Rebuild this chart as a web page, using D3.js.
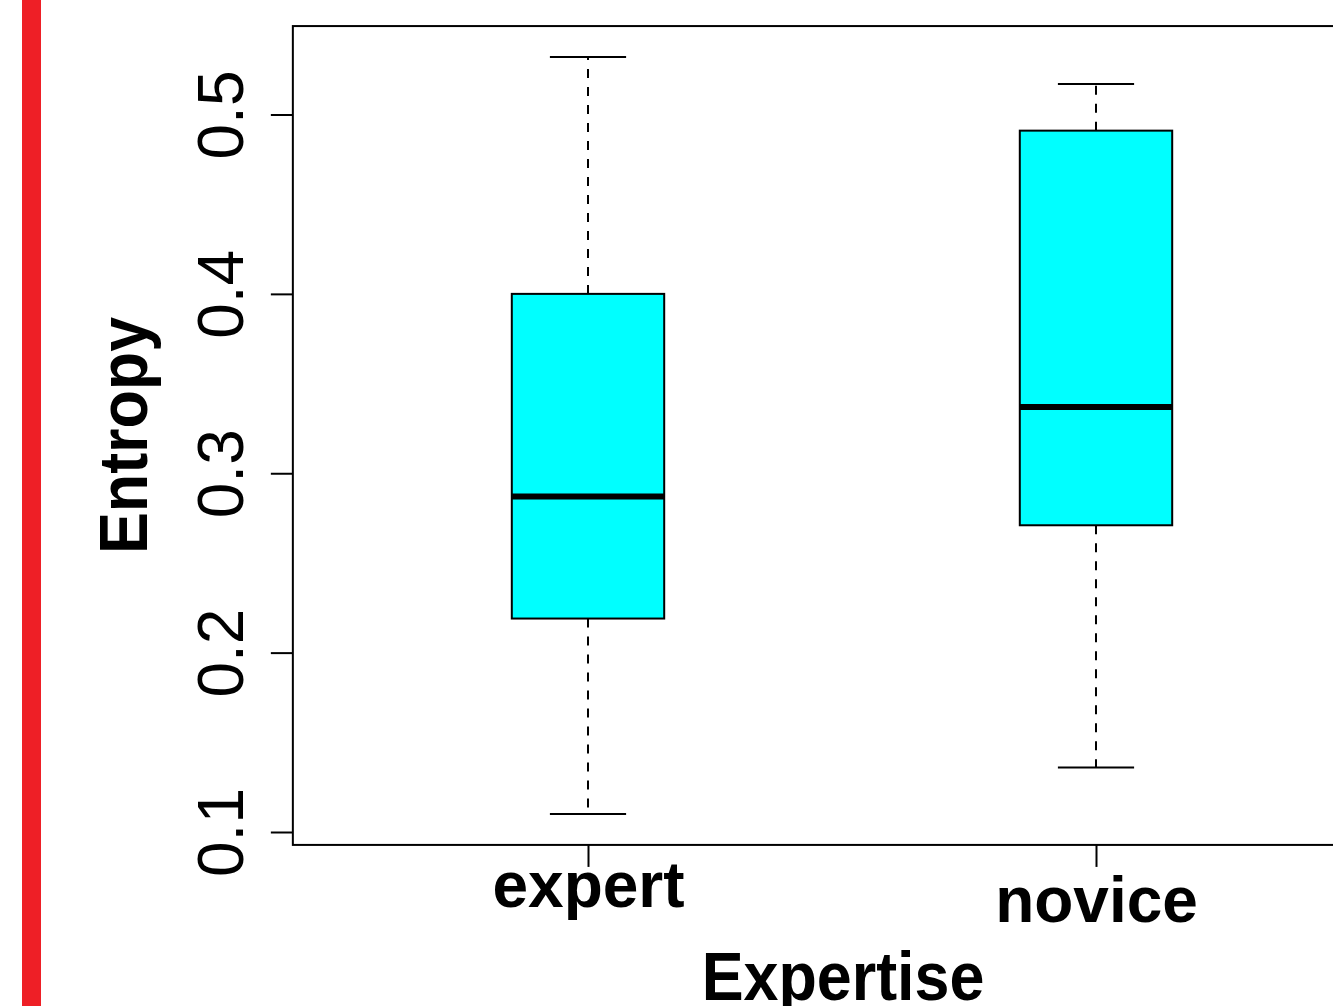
<!DOCTYPE html>
<html>
<head>
<meta charset="utf-8">
<script src="https://cdn.jsdelivr.net/npm/d3@7"></script>
<style>
  html, body { margin: 0; padding: 0; background: #fff; }
  svg { display: block; font-family: "Liberation Sans", Arial, Helvetica, sans-serif; }
</style>
</head>
<body>
<div id="chart"></div>
<script>
'use strict';

// Data
const categories = ['expert', 'novice'];
const whiskerLow  = [0.110, 0.136];
const quartile1   = [0.219, 0.271];
const medians     = [0.287, 0.337];
const quartile3   = [0.400, 0.491];
const whiskerHigh = [0.532, 0.517];
const yTicks = [0.1, 0.2, 0.3, 0.4, 0.5];

const W = 1333, H = 1006;
const BOX_HALF = 0.15;          // in category units
const CAP_HALF = BOX_HALF / 2;
const X_LIM = [0.419, 2.585];
const Y_LIM = [0.0928, 0.5493];
const LABEL_DY = [0, 15];       // R placed the two category labels at different heights

const x = d3.scaleLinear().domain([1, 2]).range([588, 1096]);
const y = d3.scaleLinear().domain([0.1, 0.5]).range([832, 114.5]);

const boxes = categories.map((name, i) => ({
  name, i: i + 1,
  lo: whiskerLow[i], q1: quartile1[i], med: medians[i], q3: quartile3[i], hi: whiskerHigh[i],
}));

const svg = d3.select('#chart').append('svg')
  .attr('width', W).attr('height', H);

// red margin bar on the left
svg.append('rect')
  .attr('x', 22).attr('y', 0)
  .attr('width', 19).attr('height', H)
  .attr('fill', '#ee1f26');

// plot frame
const fx0 = x(X_LIM[0]), fx1 = x(X_LIM[1]);
const fy0 = y(Y_LIM[1]), fy1 = y(Y_LIM[0]);
svg.append('rect')
  .attr('x', fx0).attr('y', fy0)
  .attr('width', fx1 - fx0).attr('height', fy1 - fy0)
  .attr('fill', 'none').attr('stroke', '#000').attr('stroke-width', 2);

// y axis
const yAxis = svg.append('g')
  .attr('transform', `translate(${fx0},0)`)
  .call(d3.axisLeft(y).tickValues(yTicks).tickSize(22).tickFormat(d3.format('.1f')));
yAxis.select('.domain').remove();
yAxis.selectAll('.tick line').attr('stroke', '#000').attr('stroke-width', 2);
yAxis.selectAll('.tick text')
  .attr('x', 0).attr('y', -50).attr('dy', null)
  .attr('transform', 'rotate(-90)')
  .attr('text-anchor', 'middle')
  .attr('fill', '#000')
  .attr('font-size', '64px');

// x axis
const xAxis = svg.append('g')
  .attr('transform', `translate(0,${fy1})`)
  .call(d3.axisBottom(x).tickValues([1, 2]).tickSize(22).tickFormat(d => categories[d - 1]));
xAxis.select('.domain').remove();
xAxis.selectAll('.tick line').attr('stroke', '#000').attr('stroke-width', 2);
xAxis.selectAll('.tick text')
  .attr('y', (d, i) => 62 + LABEL_DY[i]).attr('dy', null)
  .attr('fill', '#000')
  .attr('font-size', '64px')
  .attr('font-weight', 'bold');

// axis titles
svg.append('text')
  .attr('transform', `translate(${(fx0 + fx1) / 2},1000) scale(0.91,1)`)
  .attr('text-anchor', 'middle')
  .attr('font-size', '69px').attr('font-weight', 'bold')
  .text('Expertise');

svg.append('text')
  .attr('transform', `translate(147,${(fy0 + fy1) / 2}) rotate(-90) scale(0.91,1)`)
  .attr('text-anchor', 'middle')
  .attr('font-size', '69px').attr('font-weight', 'bold')
  .text('Entropy');

// boxes
const g = svg.append('g');
const b = g.selectAll('g.box').data(boxes).join('g').attr('class', 'box');

// dashed whiskers
b.append('line')
  .attr('x1', d => x(d.i)).attr('x2', d => x(d.i))
  .attr('y1', d => y(d.q3)).attr('y2', d => y(d.hi))
  .attr('stroke', '#000').attr('stroke-width', 2).attr('stroke-dasharray', '9,9');
b.append('line')
  .attr('x1', d => x(d.i)).attr('x2', d => x(d.i))
  .attr('y1', d => y(d.q1)).attr('y2', d => y(d.lo))
  .attr('stroke', '#000').attr('stroke-width', 2).attr('stroke-dasharray', '9,9');

// whisker caps
['lo', 'hi'].forEach(k => {
  b.append('line')
    .attr('x1', d => x(d.i - CAP_HALF)).attr('x2', d => x(d.i + CAP_HALF))
    .attr('y1', d => y(d[k])).attr('y2', d => y(d[k]))
    .attr('stroke', '#000').attr('stroke-width', 2);
});

// box body
b.append('rect')
  .attr('x', d => x(d.i - BOX_HALF))
  .attr('y', d => y(d.q3))
  .attr('width', d => x(d.i + BOX_HALF) - x(d.i - BOX_HALF))
  .attr('height', d => y(d.q1) - y(d.q3))
  .attr('fill', '#00ffff').attr('stroke', '#000').attr('stroke-width', 2);

// median
b.append('line')
  .attr('x1', d => x(d.i - BOX_HALF)).attr('x2', d => x(d.i + BOX_HALF))
  .attr('y1', d => y(d.med)).attr('y2', d => y(d.med))
  .attr('stroke', '#000').attr('stroke-width', 6);
</script>
</body>
</html>
